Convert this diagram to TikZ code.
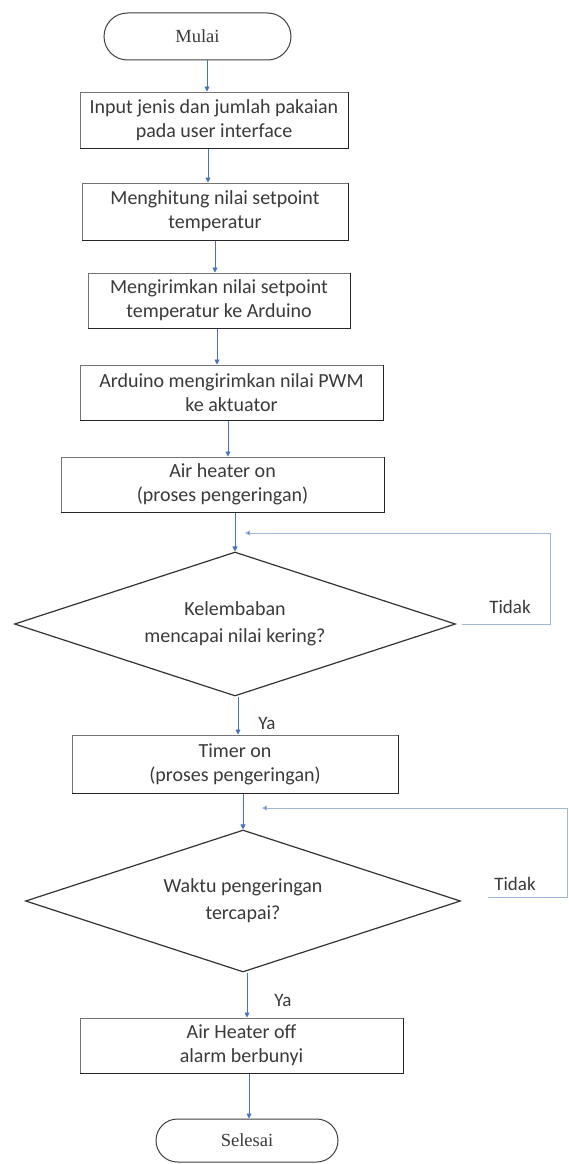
\documentclass[tikz,border=0pt]{standalone}
\usepackage{fontspec}
\setmainfont{Carlito}
\newfontfamily\termfont{Liberation Serif}
\usetikzlibrary{shapes.geometric,arrows.meta}
\definecolor{arrblue}{HTML}{4472C4}
\definecolor{loopblue}{HTML}{A3B6DA}
\definecolor{txt}{HTML}{3A3A3A}
\tikzset{
  procbox/.style={draw=black!55, line width=1pt, fill=white, rectangle, inner sep=0pt,
    align=center, text=txt, font=\fontsize{20}{24}\selectfont},
  termbox/.style={draw=black!75, line width=1pt, rectangle, inner sep=0pt,
    align=center, text=txt, font=\termfont\fontsize{18.5}{20}\selectfont},
  decbox/.style={draw=black!80, line width=1.2pt, diamond, inner sep=0pt, aspect=3,
    align=center, text=txt, font=\fontsize{20}{27}\selectfont},
  lbl/.style={text=txt, font=\fontsize{19}{20}\selectfont, inner sep=0pt},
  darkedge/.style={draw=black!85, line width=1.6pt},
  arr/.style={draw=arrblue, line width=0.8pt, -{Triangle[length=5pt,width=5pt]}},
  looparr/.style={draw=loopblue, line width=0.9pt, -{Triangle[length=5pt,width=5pt,fill=arrblue]}}
}
\begin{document}
\begin{tikzpicture}[x=1pt,y=-1pt]
\useasboundingbox[fill=white] (0,0) rectangle (569,1164);

\node[termbox, minimum width=187pt, minimum height=47pt, rounded corners=23.5pt] (mulai) at (197.5,36.5) {Mulai};
\node[procbox, minimum width=268pt, minimum height=56pt] (b1) at (214,120) {Input jenis dan jumlah pakaian\\pada user interface};
\node[procbox, minimum width=266pt, minimum height=57pt] (b2) at (215,211.5) {Menghitung nilai setpoint\\temperatur};
\node[procbox, minimum width=262pt, minimum height=55pt] (b3) at (219,300.5) {Mengirimkan nilai setpoint\\temperatur ke Arduino};
\node[procbox, minimum width=303pt, minimum height=55pt] (b4) at (231.5,392.5) {Arduino mengirimkan nilai PWM\\ke aktuator};
\node[procbox, minimum width=323pt, minimum height=55pt] (b5) at (222.5,484.5) {Air heater on\\(proses pengeringan)};
\node[decbox, minimum width=441pt, minimum height=144pt] (d1) at (235,624) {Kelembaban\\mencapai nilai kering?};
\node[procbox, minimum width=326pt, minimum height=58pt] (b6) at (235,764) {Timer on\\(proses pengeringan)};
\node[decbox, minimum width=435pt, minimum height=142pt] (d2) at (243,901) {Waktu pengeringan\\tercapai?};
\node[procbox, minimum width=323pt, minimum height=55pt] (b7) at (241.5,1045.5) {Air Heater off\\alarm berbunyi};
\node[termbox, minimum width=182pt, minimum height=43pt, rounded corners=21.5pt] (selesai) at (247,1140.5) {Selesai};

\foreach \b in {b1,b2,b3,b4,b5,b6,b7}
  \draw[darkedge] (\b.south west) -- (\b.south east) -- (\b.north east);

\node[lbl] (tidak1) at (510,607) {Tidak};
\node[lbl] (tidak2) at (515,884) {Tidak};
\node[lbl] (ya1) at (267,723) {Ya};
\node[lbl] (ya2) at (283,1000) {Ya};

\coordinate (x1) at (207,0);
\coordinate (x2) at (208,0);
\coordinate (x3) at (215,0);
\coordinate (x4) at (217,0);
\coordinate (x5) at (228,0);
\coordinate (x6) at (235,0);
\coordinate (x7) at (238,0);
\coordinate (x8) at (243,0);
\coordinate (x9) at (247,0);
\coordinate (x10) at (249,0);

\draw[arr] (mulai.south -| x1) -- (b1.north -| x1);
\draw[arr] (b1.south -| x2) -- (b2.north -| x2);
\draw[arr] (b2.south -| x3) -- (b3.north -| x3);
\draw[arr] (b3.south -| x4) -- (b4.north -| x4);
\draw[arr] (b4.south -| x5) -- (b5.north -| x5);
\draw[arr] (b5.south -| x6) -- (d1.north);
\draw[arr] (d1.south -| x7) -- (b6.north -| x7);
\draw[arr] (b6.south -| x8) -- (d2.north);
\draw[arr] (d2.south -| x9) -- (b7.north -| x9);
\draw[arr] (b7.south -| x10) -- (selesai.north -| x10);

\coordinate (t1s) at (462,624);
\coordinate (t1c) at (550,533);
\coordinate (l1) at (245,533);
\draw[looparr] (t1s) -| (t1c) -- (l1);

\coordinate (t2s) at (488,897);
\coordinate (t2c) at (567,808);
\coordinate (l2) at (262,808);
\draw[looparr] (t2s) -| (t2c) -- (l2);
\end{tikzpicture}
\end{document}
